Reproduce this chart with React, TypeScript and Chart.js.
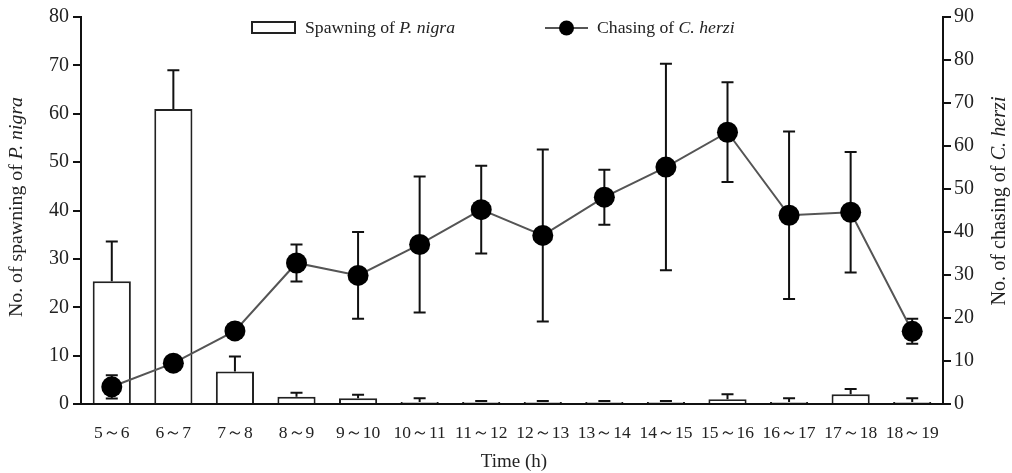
import React, { useEffect, useRef } from "react";
import { Chart, registerables } from "chart.js";

Chart.register(...registerables);

const categories = ["5~6", "6~7", "7~8", "8~9", "9~10", "10~11", "11~12", "12~13", "13~14", "14~15", "15~16", "16~17", "17~18", "18~19"];
const spawnMean = [25.4, 61, 6.7, 1.5, 1.2, 0.4, 0.4, 0.4, 0.4, 0.4, 1.0, 0.4, 2.0, 0.4];
const spawnErr = [8.2, 8, 3.1, 0.8, 0.7, 0.8, 0.2, 0.2, 0.2, 0.2, 1.0, 0.8, 1.1, 0.8];
const chaseMean = [4.0, 9.5, 17.0, 32.8, 29.9, 37.1, 45.2, 39.2, 48.1, 55.1, 63.2, 43.9, 44.6, 16.9];
const chaseErr = [2.7, 1.0, 1.0, 4.3, 10.1, 15.8, 10.2, 20.0, 6.4, 24.0, 11.6, 19.5, 14.0, 2.9];
const leftTicks = [0, 10, 20, 30, 40, 50, 60, 70, 80];
const rightTicks = [0, 10, 20, 30, 40, 50, 60, 70, 80, 90];

const FONT = "'Liberation Serif', 'Times New Roman', serif";

type Seg = { t: string; i?: boolean };

function segWidth(ctx: CanvasRenderingContext2D, segs: Seg[], fs: number) {
  let w = 0;
  for (const s of segs) {
    ctx.font = `${s.i ? "italic " : ""}${fs}px ${FONT}`;
    w += ctx.measureText(s.t).width;
  }
  return w;
}

function drawSegs(ctx: CanvasRenderingContext2D, segs: Seg[], x: number, y: number, align: "left" | "center", fs: number) {
  const w = segWidth(ctx, segs, fs);
  let cx = align === "center" ? x - w / 2 : x;
  ctx.textBaseline = "middle";
  ctx.textAlign = "left";
  for (const s of segs) {
    ctx.font = `${s.i ? "italic " : ""}${fs}px ${FONT}`;
    ctx.fillText(s.t, cx, y);
    cx += ctx.measureText(s.t).width;
  }
}

const decorPlugin = {
  id: "decor",
  afterDatasetDraw(chart: any, args: any) {
    if (args.index !== 1) return;
    const ctx: CanvasRenderingContext2D = chart.ctx;
    const x = chart.scales.x;
    const yL = chart.scales.yL;
    const yR = chart.scales.yR;
    ctx.save();
    ctx.strokeStyle = "#111";
    ctx.lineWidth = 2;
    const cap = 6;
    spawnMean.forEach((v, i) => {
      const px = x.getPixelForValue(i);
      const y0 = yL.getPixelForValue(v);
      const y1 = yL.getPixelForValue(v + spawnErr[i]);
      ctx.beginPath();
      ctx.moveTo(px, y0);
      ctx.lineTo(px, y1);
      ctx.moveTo(px - cap, y1);
      ctx.lineTo(px + cap, y1);
      ctx.stroke();
    });
    chaseMean.forEach((v, i) => {
      const px = x.getPixelForValue(i);
      const yt = yR.getPixelForValue(v + chaseErr[i]);
      const yb = yR.getPixelForValue(v - chaseErr[i]);
      ctx.beginPath();
      ctx.moveTo(px, yt);
      ctx.lineTo(px, yb);
      ctx.moveTo(px - cap, yt);
      ctx.lineTo(px + cap, yt);
      ctx.moveTo(px - cap, yb);
      ctx.lineTo(px + cap, yb);
      ctx.stroke();
    });
    ctx.restore();
  },
  afterDraw(chart: any) {
    const ctx: CanvasRenderingContext2D = chart.ctx;
    const area = chart.chartArea;
    ctx.save();
    // legend
    ctx.strokeStyle = "#222";
    ctx.lineWidth = 2;
    ctx.fillStyle = "#fff";
    ctx.fillRect(252, 22, 43, 11);
    ctx.strokeRect(252, 22, 43, 11);
    ctx.fillStyle = "#222";
    drawSegs(ctx, [{ t: "Spawning of " }, { t: "P. nigra", i: true }], 305, 28, "left", 17.7);
    ctx.strokeStyle = "#555";
    ctx.beginPath();
    ctx.moveTo(545, 28);
    ctx.lineTo(588, 28);
    ctx.stroke();
    ctx.fillStyle = "#000";
    ctx.beginPath();
    ctx.arc(566.5, 28, 7.5, 0, Math.PI * 2);
    ctx.fill();
    ctx.fillStyle = "#222";
    drawSegs(ctx, [{ t: "Chasing of " }, { t: "C. herzi", i: true }], 597, 28, "left", 17.7);
    // x title
    drawSegs(ctx, [{ t: "Time (h)" }], (area.left + area.right) / 2 + 2, 462, "center", 19);
    // left title
    ctx.save();
    ctx.translate(16.5, 207);
    ctx.rotate(-Math.PI / 2);
    drawSegs(ctx, [{ t: "No. of spawning of " }, { t: "P. nigra", i: true }], 0, 0, "center", 19.8);
    ctx.restore();
    // right title
    ctx.save();
    ctx.translate(1000, 201);
    ctx.rotate(-Math.PI / 2);
    drawSegs(ctx, [{ t: "No. of chasing of " }, { t: "C. herzi", i: true }], 0, 0, "center", 20.2);
    ctx.restore();
    ctx.restore();
  },
};

export default function App() {
  const ref = useRef<HTMLCanvasElement | null>(null);
  useEffect(() => {
    if (!ref.current) return;
    const chart = new Chart(ref.current, {
      type: "bar",
      data: {
        labels: categories.map((c) => c.replace("~", "～")),
        datasets: [
          {
            type: "line",
            label: "Chasing of C. herzi",
            data: chaseMean,
            yAxisID: "yR",
            borderColor: "#555",
            borderWidth: 2,
            pointRadius: 10.5,
            pointBackgroundColor: "#000",
            pointBorderColor: "#000",
            pointBorderWidth: 0,
            tension: 0,
            order: 0,
          } as any,
          {
            type: "bar",
            label: "Spawning of P. nigra",
            data: spawnMean,
            yAxisID: "yL",
            backgroundColor: "#fff",
            borderColor: "#222",
            borderWidth: 2,
            barPercentage: 0.62,
            categoryPercentage: 1,
            order: 1,
          },
        ],
      },
      options: {
        responsive: false,
        animation: false,
        events: [],
        layout: { padding: { top: 17, left: 0, right: 0, bottom: 0 } },
        plugins: { legend: { display: false }, tooltip: { enabled: false } },
        scales: {
          x: {
            offset: true,
            grid: { display: false },
            border: { display: true, color: "#111", width: 2 },
            ticks: { color: "#222", font: { family: FONT, size: 17.5 }, padding: 11, maxRotation: 0, autoSkip: false },
            afterFit: (s: any) => {
              s.height = 69;
            },
          },
          yL: {
            position: "left",
            min: 0,
            max: 80,
            afterBuildTicks: (s: any) => {
              s.ticks = leftTicks.map((v) => ({ value: v }));
            },
            grid: { drawOnChartArea: false, drawTicks: true, tickLength: 8, color: "#111", lineWidth: 2 },
            border: { display: true, color: "#111", width: 2 },
            ticks: { color: "#222", font: { family: FONT, size: 20 }, padding: 4 },
            afterFit: (s: any) => {
              s.width = 81;
            },
          },
          yR: {
            position: "right",
            min: 0,
            max: 90,
            afterBuildTicks: (s: any) => {
              s.ticks = rightTicks.map((v) => ({ value: v }));
            },
            grid: { drawOnChartArea: false, drawTicks: true, tickLength: 8, color: "#111", lineWidth: 2 },
            border: { display: true, color: "#111", width: 2 },
            ticks: { color: "#222", font: { family: FONT, size: 20 }, padding: 3 },
            afterFit: (s: any) => {
              s.width = 69;
            },
          },
        },
      },
      plugins: [decorPlugin],
    });
    return () => chart.destroy();
  }, []);
  return (
    <div style={{ position: "absolute", left: 0, top: 0, width: 1012, height: 473, background: "#fff" }}>
      <canvas ref={ref} width={1012} height={473} style={{ display: "block" }} />
    </div>
  );
}
